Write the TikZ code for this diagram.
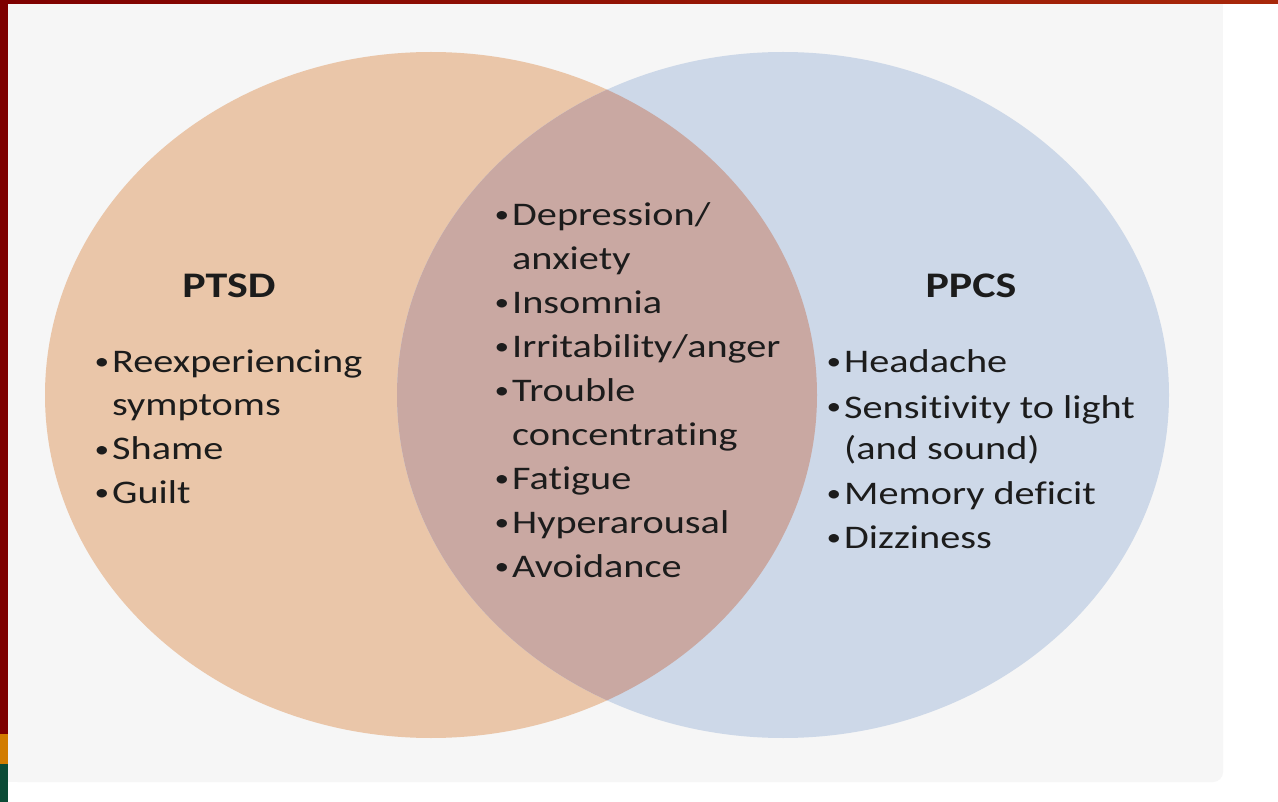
\documentclass[tikz,border=0pt]{standalone}
\usepackage{fontspec}
\setmainfont{Carlito}[FakeStretch=1.22,Ligatures=NoCommon]
\definecolor{barL}{HTML}{7E0000}
\definecolor{barR}{HTML}{A8280A}
\definecolor{barO}{HTML}{D27C00}
\definecolor{barG}{HTML}{0B4B36}
\definecolor{panel}{HTML}{F6F6F6}
\definecolor{peach}{HTML}{EAC6A9}
\definecolor{sky}{HTML}{CDD8E8}
\definecolor{mauve}{HTML}{C9A8A2}
\definecolor{ink}{HTML}{1C1C1C}
\newcommand\lfont{\fontsize{33}{40}\selectfont}
\newcommand\bfont{\fontsize{24}{30}\selectfont}
\newcommand\hfont{\fontsize{36}{40}\selectfont\bfseries}
\begin{document}
\begin{tikzpicture}[x=1pt,y=-1pt,
  txt/.style={anchor=base west,inner sep=0pt,text=ink,font=\lfont},
  bul/.style={anchor=base,inner sep=0pt,text=ink,font=\bfont,yshift=3pt},
  head/.style={anchor=base,inner sep=0pt,text=ink,font=\hfont}]
\useasboundingbox (0,0) rectangle (1278,802);
\fill[white] (0,0) rectangle (1278,802);
% panel
\fill[panel] (8,4) rectangle (1223,700);
\fill[panel,rounded corners=10pt] (8,600) rectangle (1223,782);
\fill[panel] (8,700) rectangle (100,782);
% bars
\shade[left color=barL,right color=barR] (0,0) rectangle (1278,4);
\fill[barL] (0,0) rectangle (8,734);
\fill[barO] (0,734) rectangle (8,764);
\fill[barG] (0,764) rectangle (8,802);
% ellipses
\fill[peach] (431,395) ellipse [x radius=386pt,y radius=343pt];
\fill[sky] (783,395) ellipse [x radius=386pt,y radius=343pt];
\begin{scope}
\clip (431,395) ellipse [x radius=386pt,y radius=343pt];
\fill[mauve] (783,395) ellipse [x radius=386pt,y radius=343pt];
\end{scope}
% headings
\node[head] (ptsd) at (229,298) {PTSD};
\node[head] (ppcs) at (971,298) {PPCS};
% left list
\node[bul] (l1b) at (102,373) {•};
\node[txt] (l1) at (112,373) {Reexperiencing};
\node[txt] (l1c) at (112,416) {symptoms};
\node[bul] (l2b) at (102,460) {•};
\node[txt] (l2) at (112,460) {Shame};
\node[bul] (l3b) at (102,503) {•};
\node[txt] (l3) at (112,503) {Guilt};
% center list
\node[bul] (c1b) at (502,226) {•};
\node[txt] (c1) at (512,226) {Depression/};
\node[txt] (c1c) at (512,270) {anxiety};
\node[bul] (c2b) at (502,314) {•};
\node[txt] (c2) at (512,314) {Insomnia};
\node[bul] (c3b) at (502,358) {•};
\node[txt] (c3) at (512,358) {Irritability/anger};
\node[bul] (c4b) at (502,402) {•};
\node[txt] (c4) at (512,402) {Trouble};
\node[txt] (c4c) at (512,446) {concentrating};
\node[bul] (c5b) at (502,489) {•};
\node[txt] (c5) at (512,489) {Fatigue};
\node[bul] (c6b) at (502,533) {•};
\node[txt] (c6) at (512,533) {Hyperarousal};
\node[bul] (c7b) at (502,577) {•};
\node[txt] (c7) at (512,577) {Avoidance};
% right list
\node[bul] (r1b) at (834,373) {•};
\node[txt] (r1) at (844,373) {Headache};
\node[bul] (r2b) at (834,418) {•};
\node[txt] (r2) at (844,418) {Sensitivity to light};
\node[txt] (r2c) at (844,460) {(and sound)};
\node[bul] (r3b) at (834,504) {•};
\node[txt] (r3) at (844,504) {Memory deficit};
\node[bul] (r4b) at (834,548) {•};
\node[txt] (r4) at (844,548) {Dizziness};
\end{tikzpicture}
\end{document}
